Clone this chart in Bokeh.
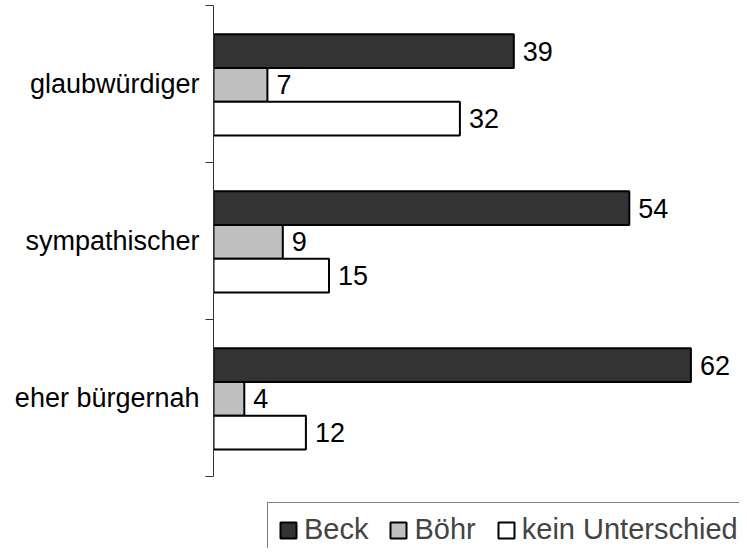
from bokeh.plotting import figure
from bokeh.models import (ColumnDataSource, Range1d, FixedTicker, Legend, LegendItem)
from bokeh.core.properties import value
from bokeh.embed import file_html
from bokeh.resources import INLINE

categories = ["glaubwürdiger", "sympathischer", "eher bürgernah"]
beck = [39, 54, 62]
boehr = [7, 9, 4]
kein = [32, 15, 12]
series_names = ["Beck", "Böhr", "kein Unterschied"]

FONT = "Liberation Sans"
FS = "27px"
LFS = "29px"

W, H = 739, 548
LEFT = 213
px_per_unit_y = 157.0
y_top = -5 / px_per_unit_y
y_bottom = y_top + H / px_per_unit_y

p = figure(width=W, height=H, output_backend="svg", toolbar_location=None,
           x_range=Range1d(0, (W - LEFT) / 7.7),
           y_range=Range1d(y_bottom, y_top),
           min_border_left=LEFT, min_border_right=0, min_border_top=0, min_border_bottom=0)
p.outline_line_color = None
p.xgrid.visible = False
p.ygrid.visible = False
p.xaxis.visible = False

offsets = [-0.21, 0.005, 0.22]
fills = ["#333333", "#c0c0c0", "#ffffff"]
height = 0.215
renderers = []
for vals, off, fill in zip([beck, boehr, kein], offsets, fills):
    ys = [i + 0.5 + off for i in range(len(categories))]
    src = ColumnDataSource(dict(y=ys, right=vals, lbl=[str(v) for v in vals]))
    r = p.hbar(y="y", left=0, right="right", height=height, source=src,
               fill_color=fill, line_color="black", line_width=2)
    renderers.append(r)
    p.text(x="right", y="y", text="lbl", source=src, x_offset=9,
           text_align="left", text_baseline="middle", text_font_size=value(FS),
           text_font=value(FONT), text_color="black")

ax = p.yaxis[0]
ax.ticker = FixedTicker(ticks=[0.5, 1.5, 2.5], minor_ticks=[0, 1, 2, 3])
ax.major_label_overrides = {0.5: categories[0], 1.5: categories[1], 2.5: categories[2]}
ax.bounds = (0, 3)
ax.axis_line_color = "#333333"
ax.axis_line_width = 1
ax.major_tick_line_color = None
ax.major_tick_out = 0
ax.major_tick_in = 0
ax.minor_tick_line_color = "#333333"
ax.minor_tick_out = 8
ax.minor_tick_in = 0
ax.major_label_standoff = 6
ax.major_label_text_font = FONT
ax.major_label_text_font_size = FS
ax.major_label_text_color = "black"

legend = Legend(items=[LegendItem(label=n, renderers=[r]) for n, r in zip(series_names, renderers)],
                orientation="horizontal", location=(54, -9),
                label_text_font=FONT, label_text_font_size=LFS,
                glyph_width=20, glyph_height=20, label_standoff=6, spacing=20,
                padding=10, margin=0, border_line_color="black", border_line_width=1,
                background_fill_color="white", background_fill_alpha=1)
p.add_layout(legend)

open("out.html", "w").write(file_html(p, INLINE))
